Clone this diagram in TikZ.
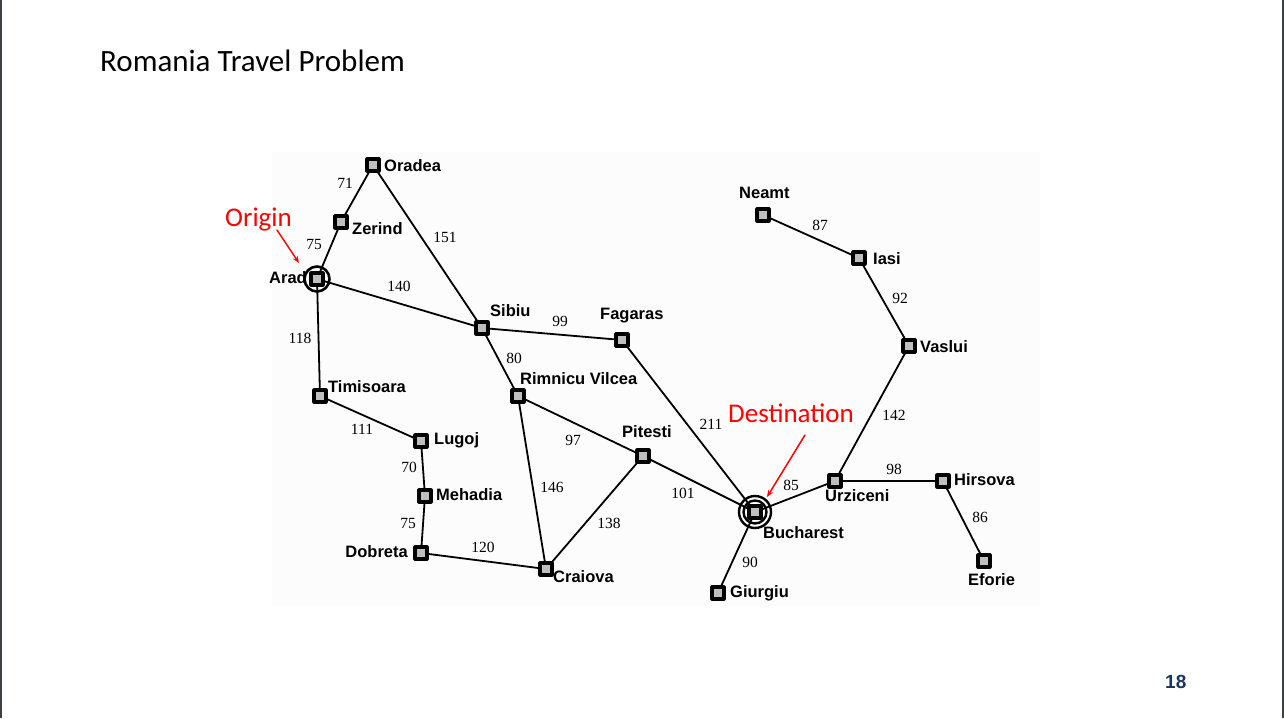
\documentclass[tikz,border=0pt]{standalone}
\usepackage{fontspec}
\setmainfont{Liberation Serif}
\newfontfamily\mapsans{Liberation Sans}
\newfontfamily\slidefont{Carlito}
\usetikzlibrary{arrows.meta}
\definecolor{slideblue}{HTML}{17375E}
\definecolor{framegray}{HTML}{3C4045}
\tikzset{
  city/.style={draw, line width=3.2pt, fill=gray!50, minimum size=12pt, inner sep=0pt},
  road/.style={line width=1.8pt},
  lbl/.style={inner sep=0pt, font=\mapsans\bfseries\fontsize{16.5}{18}\selectfont},
  wt/.style={inner sep=0pt, font=\fontsize{15.5}{17}\selectfont},
  note/.style={inner sep=0pt, text=red, font=\slidefont\fontsize{27}{30}\selectfont},
  pointer/.style={red, line width=1.5pt, -{Stealth[length=7pt,width=5.5pt]}}
}
\begin{document}
\begin{tikzpicture}[x=1pt, y=-1pt, line join=round, line cap=round]
  % --- slide frame ---
  \useasboundingbox (0,0) rectangle (1284,718);
  \fill[white] (0,0) rectangle (1284,718);
  \fill[framegray] (0,0) rectangle (2.3,718);
  \fill[framegray] (1281.7,0) rectangle (1284,718);
  \fill[black!1] (272,152) rectangle (1040,606);
  \node[inner sep=0pt, anchor=base west, font=\slidefont\fontsize{31}{34}\selectfont] (title) at (100,71) {Romania Travel Problem};
  \node[inner sep=0pt, anchor=base west, text=slideblue, font=\mapsans\bfseries\fontsize{19}{21}\selectfont] (pagenum) at (1165,688) {18};
  % --- cities ---
  \foreach \n/\x/\y in {oradea/373/165, zerind/341/222, arad/317/279, sibiu/482/328,
      fagaras/622/340, timisoara/320/396, lugoj/421/441, mehadia/425/496,
      dobreta/421/553, rimnicu/518/396, craiova/546/569, pitesti/643/456,
      bucharest/755/512, giurgiu/718/593, urziceni/835/481, hirsova/943/481,
      eforie/984/561, vaslui/909/346, iasi/859/258, neamt/763/215}
    \node[city] (\n) at (\x,\y) {};
  % --- city names ---
  \foreach \n/\t/\a/\x/\y in {oradea/Oradea/base west/384/171, zerind/Zerind/base west/352/234,
      arad/Arad/base east/307/283, sibiu/Sibiu/base west/490/316,
      fagaras/Fagaras/base west/600/319, timisoara/Timisoara/base west/328/392,
      lugoj/Lugoj/base west/434/444, mehadia/Mehadia/base west/436/500,
      dobreta/Dobreta/base east/408/557, rimnicu/Rimnicu Vilcea/base west/520/384,
      craiova/Craiova/base west/553/582, pitesti/Pitesti/base west/622/437,
      bucharest/Bucharest/base west/763/538, giurgiu/Giurgiu/base west/730/597,
      urziceni/Urziceni/base west/825/501, hirsova/Hirsova/base west/954/485,
      eforie/Eforie/base west/968/585, vaslui/Vaslui/base west/920/352,
      iasi/Iasi/base west/873/264, neamt/Neamt/base west/739/198}
    \node[lbl, anchor=\a] (l\n) at (\x,\y) {\t};
  % --- roads ---
  \foreach \a/\b in {arad/zerind, zerind/oradea, oradea/sibiu, arad/sibiu, arad/timisoara,
      timisoara/lugoj, lugoj/mehadia, mehadia/dobreta, dobreta/craiova, sibiu/fagaras,
      sibiu/rimnicu, rimnicu/craiova, rimnicu/pitesti, craiova/pitesti, pitesti/bucharest,
      fagaras/bucharest, bucharest/giurgiu, bucharest/urziceni, urziceni/hirsova,
      hirsova/eforie, urziceni/vaslui, vaslui/iasi, iasi/neamt}
    \draw[road] (\a) -- (\b);
  % --- distances ---
  \foreach \x/\y/\w [count=\i] in {345/183/71, 445/237/151, 314/244/75, 399/286/140,
      300/338/118, 560/321/99, 514/358/80, 362/429/111, 409/467/70, 408/523/75,
      483/547/120, 552/487/146, 573/440/97, 609/523/138, 683/493/101, 711/424/211,
      791/485/85, 750/562/90, 894/415/142, 894/469/98, 980/517/86, 820/225/87,
      900/298/92}
    \node[wt] (w\i) at (\x,\y) {\w};
  % --- start and goal ---
  \draw[line width=2.6pt] (arad) circle (12.5pt);
  \draw[line width=2.4pt] (bucharest) circle (16pt) (bucharest) circle (11.5pt);
  \node[note, anchor=base west] (origin) at (225,226) {Origin};
  \node[note, anchor=base west] (dest) at (728,422) {Destination};
  \coordinate (origintip) at (299,263);
  \coordinate (desttip) at (767,497);
  \draw[pointer] (277,230) -- (origintip);
  \draw[pointer] (805,435) -- (desttip);
\end{tikzpicture}
\end{document}
